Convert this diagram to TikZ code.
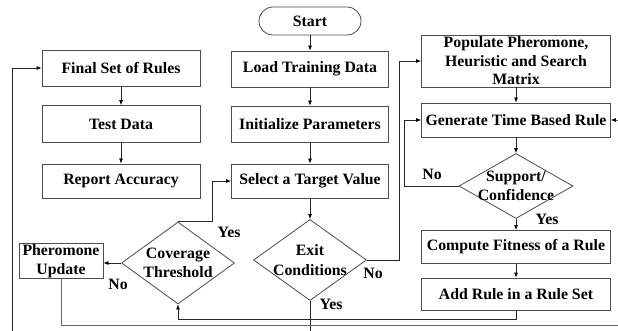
\documentclass[tikz,border=0pt]{standalone}
\usepackage{fontspec}
\setmainfont{Liberation Serif}
\usetikzlibrary{arrows.meta,shapes.geometric}
\tikzset{
	box/.style = 
    {
			draw = black!70, line width = 0.8pt, fill = white, inner sep = 0pt,
			font = \fontsize{15.8}{18.5}\selectfont\bfseries, align = center
    },
	decision/.style = {box, shape = diamond, inner sep = -14pt},
	flow/.style = {-{Latex[length=5pt,width=4pt,black]}, draw = black!85, line width = 0.8pt},
	tag/.style = {font = \fontsize{15.8}{18.5}\selectfont\bfseries, inner sep = 0pt}
}

\begin{document}
\begin{tikzpicture}[x=1pt, y=-1pt]
    \useasboundingbox (0,0) rectangle (618,331);
    % Nodes
    \node (start) [box, rounded corners=14pt, minimum width=102pt, minimum height=28pt] at (310,21) {Start};
    \node (load) [box, node distance=48pt, below of=start, minimum width=157pt, minimum height=36pt] {Load Training Data};
    \node (init) [box, node distance=55pt, below of=load, minimum width=157pt, minimum height=36pt] {Initialize Parameters};
    \node (select) [box, node distance=57pt, below of=init, minimum width=157pt, minimum height=34pt] {Select a Target Value};
    \node (exit) [decision, node distance=79pt, below of=select, minimum width=113pt, minimum height=81pt] {Exit\\[2pt]Conditions};

    \node (final) [box, minimum width=158pt, minimum height=36pt] at (121,68) {Final Set of Rules};
    \node (test) [box, node distance=56pt, below of=final, minimum width=158pt, minimum height=37pt] {Test Data};
    \node (report) [box, node distance=57pt, below of=test, minimum width=158pt, minimum height=34pt] {Report Accuracy};

    \node (coverage) [decision, minimum width=113pt, minimum height=82pt] at (178,263) {Coverage\\Threshold};
    \node (pheromone) [box, minimum width=84pt, minimum height=35pt] at (61,261) {Pheromone\\Update};

    \node (populate) [box, minimum width=189pt, minimum height=52pt] at (516,61) {Populate Pheromone,\\Heuristic and Search\\Matrix};
    \node (generate) [box, node distance=59pt, below of=populate, minimum width=189pt, minimum height=34pt] {Generate Time Based Rule};
    \node (support) [decision, node distance=66pt, below of=generate, minimum width=114pt, minimum height=65pt] {Support/\\[1pt]Confidence};
    \node (compute) [box, node distance=61pt, below of=support, minimum width=189pt, minimum height=33pt] {Compute Fitness of a Rule};
    \node (addrule) [box, node distance=47pt, below of=compute, minimum width=189pt, minimum height=32pt] {Add Rule in a Rule Set};

    % Bends outside the page
    \coordinate (leftbend) at (12,345);
    \coordinate (rightbend) at (640,325);

    % Arrows
    \draw [flow] (start) to (load);
    \draw [flow] (load) to (init);
    \draw [flow] (init) to (select);
    \draw [flow] (select) to (exit);
    \draw [flow] (final) to (test);
    \draw [flow] (test) to (report);
    \draw [flow] (populate) to (generate);
    \draw [flow] (generate) to (support);
    \draw [flow] (support) to (compute);
    \draw [flow] (compute) to (addrule);

    \draw [flow] (exit.east) -- ++(32,0) |- (populate.west);
    \draw [flow] (exit.south) |- (leftbend) |- (final.west);
    \draw [flow] (coverage.north) -- ++(34,0) |- (select.west);
    \draw [flow] (coverage.west) -- (coverage.west -| pheromone.east);
    \draw [flow] (addrule.south) -- ++(0,9) -| (coverage.south);
    \draw [flow, draw=black!60] (pheromone.south) |- (rightbend) |- (generate.east);
    \draw [flow] (support.west) -- ++(-54,0) |- (generate.west);

    % Branch labels
    \node (exitno) [tag] at (373,273) {No};
    \node (exityes) [tag] at (331,304) {Yes};
    \node (covyes) [tag] at (229,232) {Yes};
    \node (covno) [tag] at (118,284) {No};
    \node (supno) [tag] at (432,174) {No};
    \node (supyes) [tag] at (547,219) {Yes};
\end{tikzpicture}
\end{document}
